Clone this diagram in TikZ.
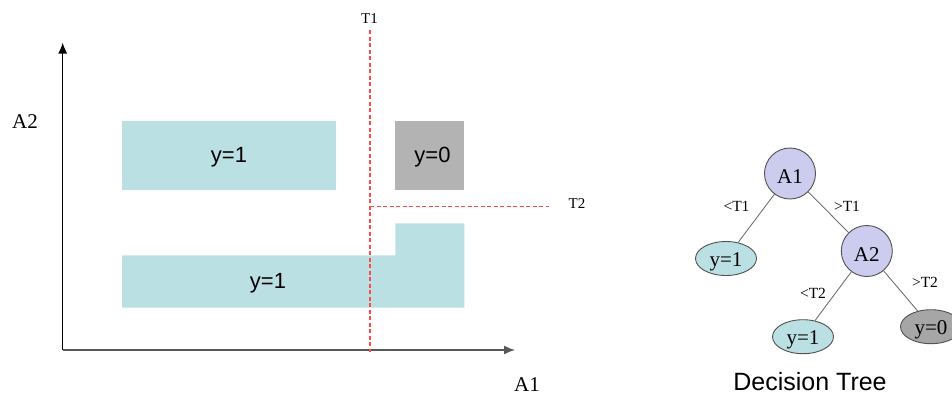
\documentclass[tikz,border=0pt]{standalone}
\usepackage{fontspec}
\setmainfont{Liberation Serif}
\setsansfont{Liberation Sans}
\usetikzlibrary{shapes.geometric,arrows.meta}
\definecolor{teal1}{HTML}{BBE0E3}
\definecolor{grayrect}{HTML}{B3B3B3}
\definecolor{lav}{HTML}{CCCCEE}
\definecolor{grayell}{HTML}{A6A6A6}
\definecolor{redline}{HTML}{FF4A4A}
\definecolor{edgegray}{HTML}{707070}
\definecolor{bordergray}{HTML}{505050}
\tikzset{
  regionbox/.style={inner sep=0pt, font=\sffamily\fontsize{22}{22}\selectfont},
  splitline/.style={redline, dash pattern=on 4pt off 2.5pt, line width=1.3pt},
  axisline/.style={line width=1.4pt, -{Latex[length=11pt,width=9pt]}},
  axislabel/.style={font=\fontsize{21}{21}\selectfont, inner sep=0pt},
  thrlabel/.style={font=\fontsize{15}{15}\selectfont, inner sep=0pt},
  treenode/.style={circle, fill=lav, draw=bordergray, line width=0.9pt, minimum size=51pt, inner sep=0pt, text height=20pt, text depth=0pt, font=\fontsize{21}{21}\selectfont},
  leafnode/.style={ellipse, fill=#1, draw=bordergray, line width=0.9pt, minimum width=61pt, minimum height=34pt, inner sep=0pt, text height=18pt, text depth=2.6pt, font=\fontsize{21}{21}\selectfont},
  treeedge/.style={edgegray, line width=0.9pt},
  edgelabel/.style={font=\fontsize{15.5}{15.5}\selectfont, inner sep=0pt},
}
\begin{document}
\begin{tikzpicture}[x=1pt,y=-1pt]
\useasboundingbox (0,0) rectangle (952,397);
% regions
\node[fill=teal1, minimum width=214pt, minimum height=69pt, inner sep=0pt] (r1) at (229,155.5) {};
\node[regionbox] (r1t) at (229,157) {y=1};
\node[fill=grayrect, minimum width=69pt, minimum height=69pt, inner sep=0pt] (r0) at (429.8,155.5) {};
\node[regionbox] (r0t) at (432.5,157) {y=0};
\fill[teal1] (122,255.3) -- (395.3,255.3) -- (395.3,223.3) -- (464.3,223.3) -- (464.3,307.7) -- (122,307.7) -- cycle;
\node[regionbox] (r2t) at (268,283) {y=1};
% axes
\coordinate (o) at (62.7,350);
\coordinate (ytop) at (62.7,42.5);
\coordinate (xend) at (515,350);
\draw[axisline, black] (o) -- (ytop);
\draw[axisline, black!65] (o) -- (xend);
\node[axislabel] (a2lab) at (25,122) {A2};
\node[axislabel] (a1lab) at (527,385) {A1};
% thresholds
\coordinate (t1top) at (370,30);
\coordinate (t1bot) at (370,352);
\coordinate (t2l) at (370,206.7);
\coordinate (t2r) at (549,206.7);
\draw[splitline] (t1top) -- (t1bot);
\draw[splitline] (t2l) -- (t2r);
\node[thrlabel] (t1lab) at (369.5,19) {T1};
\node[thrlabel] (t2lab) at (577,204) {T2};
% decision tree
\node[treenode] (na1) at (790,173.5) {A1};
\node[treenode] (na2) at (866.8,251) {A2};
\node[leafnode=teal1] (l1) at (726,258.5) {y=1};
\node[leafnode=teal1] (l2) at (803,336.7) {y=1};
\node[leafnode=grayell] (l3) at (931,326.7) {y=0};
\draw[treeedge] (na1) -- (l1);
\draw[treeedge] (na1) -- (na2);
\draw[treeedge] (na2) -- (l2);
\draw[treeedge] (na2) -- (l3);
\node[edgelabel] (e1) at (736.5,206) {<T1};
\node[edgelabel] (e2) at (847,206) {>T1};
\node[edgelabel] (e3) at (813,293) {<T2};
\node[edgelabel] (e4) at (925,282) {>T2};
\node[font=\sffamily\fontsize{25}{25}\selectfont, inner sep=0pt] (dt) at (810,382) {Decision Tree};
\end{tikzpicture}
\end{document}
